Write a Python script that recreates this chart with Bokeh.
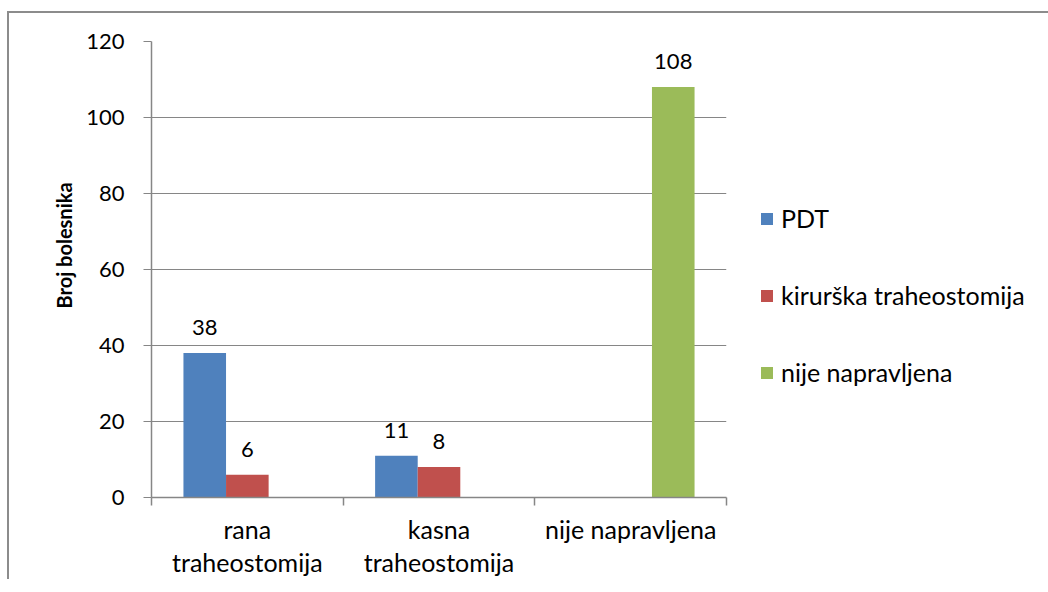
from bokeh.plotting import figure
from bokeh.models import ColumnDataSource, FixedTicker, Legend, LegendItem, LabelSet, Range1d, Title
from bokeh.embed import file_html
from bokeh.resources import INLINE
from bokeh.core.properties import value

categories = ["rana\ntraheostomija", "kasna\ntraheostomija", "nije napravljena"]
series_names = ["PDT", "kirurška traheostomija", "nije napravljena"]
pdt = [38, 11, 0]
kirurska = [6, 8, 0]
nije = [0, 0, 108]
y_ticks = [0, 20, 40, 60, 80, 100, 120]
y_title = "Broj bolesnika"

colors = ["#4F81BD", "#C0504D", "#9BBB59"]
FONT = "Lato"
GRAY = "#868686"
FS_NUM = "22px"
FS_TXT = "25px"

p = figure(frame_width=575, frame_height=456,
           x_range=Range1d(0, len(categories)), y_range=Range1d(0, 120),
           output_backend="svg", toolbar_location=None,
           min_border_left=142, min_border_right=300,
           min_border_top=28, min_border_bottom=80)
p.margin = (11, 0, 0, 7)
p.styles = {"border-left": "2px solid #8c8c8c", "border-top": "2px solid #8c8c8c"}
p.outline_line_color = None
p.background_fill_color = "white"
p.border_fill_color = "white"

bar_w = 1 / 4.5
offsets = [-bar_w, 0, bar_w]
series = [pdt, kirurska, nije]
renderers = []
lx, ly, lt = [], [], []
for s, vals in enumerate(series):
    xs = [i + 0.5 + offsets[s] for i in range(len(categories))]
    src = ColumnDataSource(dict(x=xs, top=vals))
    r = p.vbar(x="x", top="top", width=bar_w, source=src,
               fill_color=colors[s], line_color=None)
    renderers.append(r)
    for x, v in zip(xs, vals):
        if v:
            lx.append(x); ly.append(v); lt.append(str(v))

lsrc = ColumnDataSource(dict(x=lx, y=ly, t=lt))
labels = LabelSet(x="x", y="y", text="t", source=lsrc, text_align="center",
                  text_baseline="alphabetic", y_offset=18,
                  text_font=value(FONT), text_font_size=value(FS_NUM),
                  text_color="black")
p.add_layout(labels)

# y axis
p.yaxis.ticker = FixedTicker(ticks=y_ticks, minor_ticks=[])
p.yaxis.axis_line_color = GRAY
p.yaxis.axis_line_width = 1.5
p.yaxis.major_tick_line_color = GRAY
p.yaxis.major_tick_out = 8
p.yaxis.major_tick_in = 0
p.yaxis.major_label_standoff = 19
p.yaxis.major_label_text_font = FONT
p.yaxis.major_label_text_font_size = FS_NUM
p.yaxis.major_label_text_color = "black"

ytitle = Title(text=y_title, align="left", offset=189, standoff=16,
               text_font=FONT, text_font_style="bold", text_font_size="20px",
               text_color="black")
p.add_layout(ytitle, "left")

# x axis
centers = [i + 0.5 for i in range(len(categories))]
bounds = [i for i in range(len(categories) + 1)]
p.xaxis.ticker = FixedTicker(ticks=centers, minor_ticks=bounds)
p.xaxis.major_label_overrides = {c: lab for c, lab in zip(centers, categories)}
p.xaxis.axis_line_color = GRAY
p.xaxis.axis_line_width = 1.5
p.xaxis.major_tick_line_color = None
p.xaxis.major_tick_out = 0
p.xaxis.major_tick_in = 0
p.xaxis.minor_tick_line_color = GRAY
p.xaxis.minor_tick_line_width = 1.5
p.xaxis.minor_tick_out = 8
p.xaxis.minor_tick_in = 0
p.xaxis.major_label_standoff = 8
p.xaxis.major_label_text_font = FONT
p.xaxis.major_label_text_font_size = FS_TXT
p.xaxis.major_label_text_color = "black"
p.xaxis.major_label_text_line_height = 1.1

p.xgrid.grid_line_color = None
p.ygrid.grid_line_color = GRAY
p.ygrid.grid_line_width = 1

items = [LegendItem(label=n, renderers=[r]) for n, r in zip(series_names, renderers)]
legend = Legend(items=items, location=(33, 110), orientation="vertical",
                glyph_width=15, glyph_height=15, label_height=30, spacing=47,
                label_standoff=7, padding=0, margin=0,
                border_line_color=None, background_fill_alpha=0,
                label_text_font=FONT, label_text_font_size=FS_TXT,
                label_text_color="black", label_text_baseline="middle")
p.add_layout(legend, "right")

open("out.html", "w").write(file_html(p, INLINE))
